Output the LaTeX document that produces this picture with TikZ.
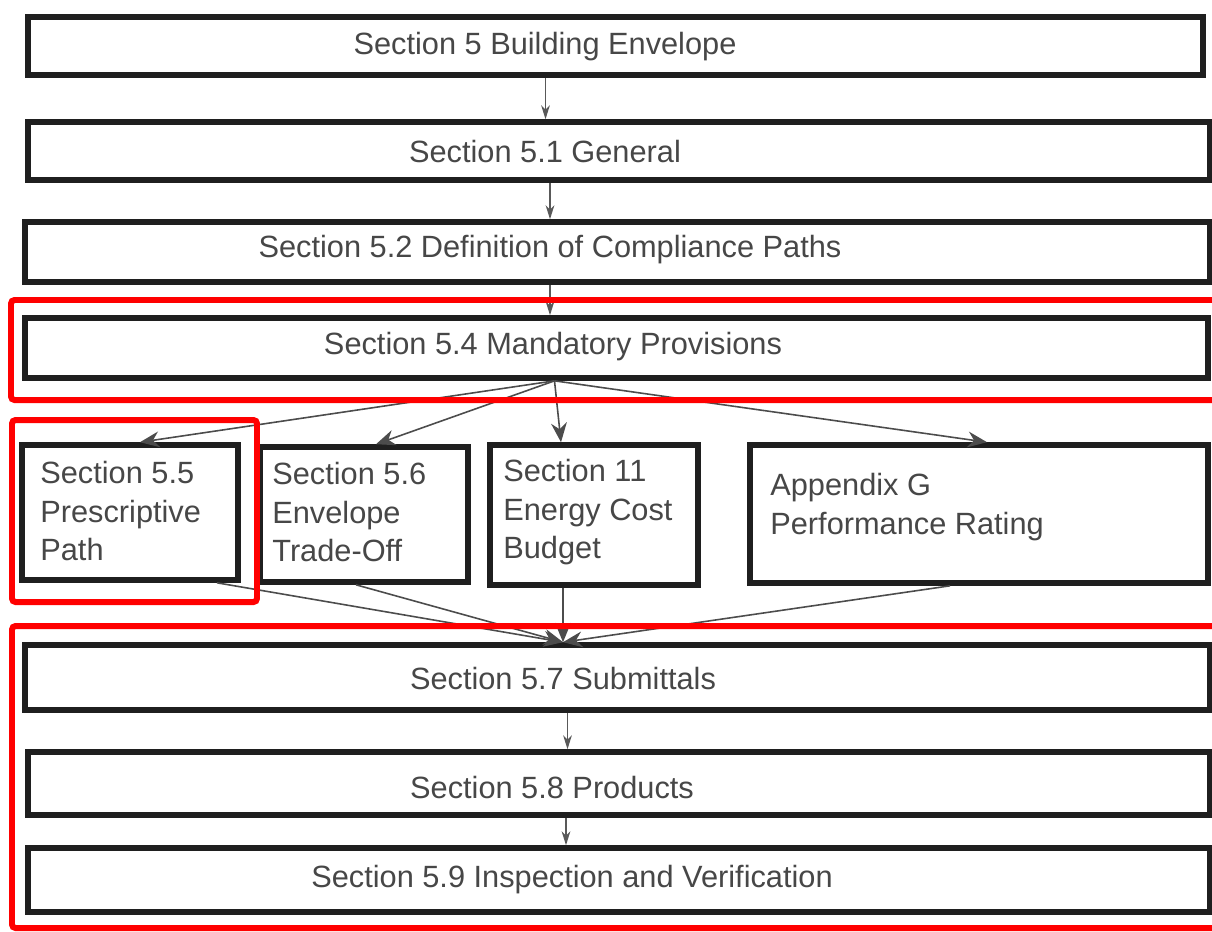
\documentclass[tikz,border=0pt]{standalone}
\usepackage{fontspec}
\setmainfont{Liberation Sans}
\usetikzlibrary{arrows.meta,calc}
\begin{document}
\begin{tikzpicture}[x=0.02cm, y=-0.02cm,
  box/.style={draw=black!88, line width=3.2pt, inner sep=0pt},
  txt/.style={inner sep=0pt, text=black!72, font=\fontsize{17.5}{22}\selectfont},
  ltxt/.style={txt, anchor=north west, align=left},
  arr/.style={draw=black!65, line width=0.8pt, -{Stealth[length=8pt,width=5pt]}},
  fan/.style={draw=black!70, line width=0.9pt, -{Stealth[length=11pt,width=9pt]}},
  redbox/.style={draw=red, line width=3.4pt, rounded corners=2pt}]
\useasboundingbox (0,0) rectangle (1212,931);
\fill[white] (0,0) rectangle (1212,931);
\clip (0,0) rectangle (1212,931);
\node[box, minimum width=23.5cm, minimum height=1.16cm] (n5) at (615.5,46) {};
\node[box, minimum width=23.64cm, minimum height=1.16cm] (n51) at (619,151) {};
\node[box, minimum width=23.7cm, minimum height=1.2cm] (n52) at (617.5,252) {};
\node[box, minimum width=23.66cm, minimum height=1.2cm] (n54) at (616.5,348) {};
\node[box, minimum width=4.32cm, minimum height=2.7cm] (n55) at (130,512.5) {};
\node[box, minimum width=4.16cm, minimum height=2.7cm] (n56) at (364,514.5) {};
\node[box, minimum width=4.16cm, minimum height=2.8cm] (n11) at (594,515) {};
\node[box, minimum width=9.16cm, minimum height=2.76cm] (nG) at (979,514) {};
\node[box, minimum width=23.7cm, minimum height=1.3cm] (n57) at (617.5,677.5) {};
\node[box, minimum width=23.64cm, minimum height=1.26cm] (n58) at (619,783.5) {};
\node[box, minimum width=23.64cm, minimum height=1.28cm] (n59) at (619,880) {};
\node[txt] (t5) at (545,47) {Section 5 Building Envelope};
\node[txt] (t51) at (545,152) {Section 5.1 General};
\node[txt] (t52) at (550,250) {Section 5.2 Definition of Compliance Paths};
\node[txt] (t54) at (553,347) {Section 5.4 Mandatory Provisions};
\node[ltxt] (t55) at (40,461) {Section 5.5\\Prescriptive\\Path};
\node[ltxt] (t56) at (272,462) {Section 5.6\\Envelope\\Trade-Off};
\node[ltxt] (t11) at (503,459) {Section 11\\Energy Cost\\Budget};
\node[ltxt] (tG) at (770,473) {Appendix G\\Performance Rating};
\node[txt] (t57) at (563,678) {Section 5.7 Submittals};
\node[txt] (t58) at (552,787) {Section 5.8 Products};
\node[txt] (t59) at (572,880) {Section 5.9 Inspection and Verification};
\draw[arr] ($(n5.south)+(-70,0)$) coordinate (a1) -- (a1 |- n51.north);
\draw[arr] ($(n51.south)+(-69,0)$) coordinate (a2) -- (a2 |- n52.north);
\draw[arr] ($(n52.south)+(-67.5,0)$) coordinate (a3) -- (a3 |- n54.north);
\coordinate (split) at ($(n54.south)+(-62,0)$);
\draw[fan] (split) -- ($(n55.north)+(10,0)$);
\draw[fan] (split) -- ($(n56.north)+(12,0)$);
\draw[fan] (split) -- ($(n11.north)+(-33,0)$);
\draw[fan] (split) -- ($(nG.north)+(8,0)$);
\coordinate (join) at ($(n57.north)+(-54.5,0)$);
\draw[fan] ($(n55.south)+(87,0)$) -- (join);
\draw[fan] ($(n56.south)+(-8,0)$) -- (join);
\draw[fan] ($(n11.south)+(-31,0)$) -- (join);
\draw[fan] ($(nG.south)+(-29,0)$) -- (join);
\draw[arr] ($(n57.south)+(-50,0)$) coordinate (a4) -- (a4 |- n58.north);
\draw[arr] ($(n58.south)+(-53,0)$) coordinate (a5) -- (a5 |- n59.north);
\draw[redbox] (11,300) rectangle (1225,400);
\draw[redbox] (12,420) rectangle (257,602);
\draw[redbox] (12,626) rectangle (1225,928);
\end{tikzpicture}
\end{document}
